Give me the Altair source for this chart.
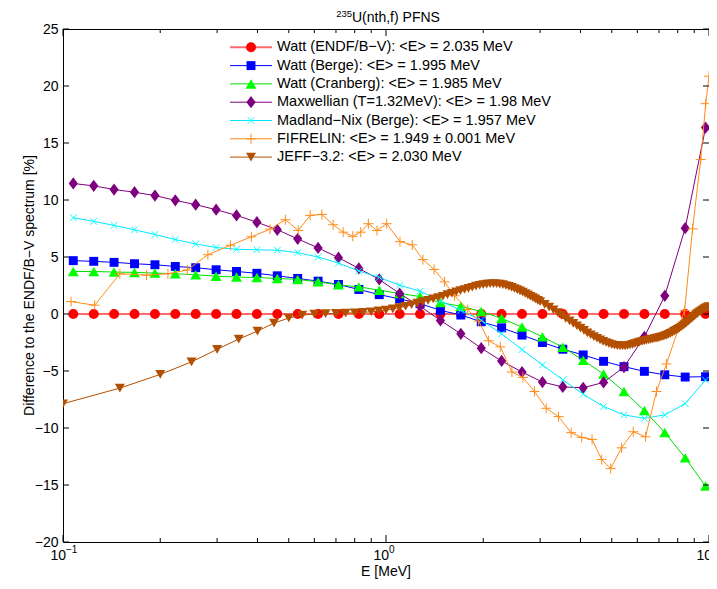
import altair as alt
import pandas as pd

# ---------------- data ----------------
E_grid = [0.1076, 0.1245, 0.1439, 0.1665, 0.1926, 0.2227, 0.2575, 0.2979, 0.3445, 0.3984,
          0.4607, 0.5328, 0.6162, 0.7126, 0.8241, 0.953, 1.102, 1.275, 1.474, 1.705,
          1.972, 2.280, 2.637, 3.050, 3.527, 4.078, 4.717, 5.455, 6.309, 7.296, 8.438, 9.757]

watt_endf = [0, 0, 0, 0, 0, 0, 0, 0, 0, 0, 0, 0, 0, 0, 0, 0,
             0, 0, 0, 0, 0, 0, 0, 0, 0, 0, 0, 0, 0, 0, 0, 0]
watt_berge = [4.68, 4.62, 4.53, 4.41, 4.32, 4.17, 4.06, 3.88, 3.73, 3.57, 3.35, 3.12, 2.88, 2.59, 2.15, 1.70,
              1.32, 0.91, 0.32, -0.09, -0.68, -1.21, -1.85, -2.5, -3.09, -3.59, -4.15, -4.62, -5.03, -5.33, -5.53, -5.5]
watt_cranberg = [3.73, 3.73, 3.68, 3.65, 3.59, 3.53, 3.44, 3.32, 3.24, 3.2, 3.12, 3.03, 2.82, 2.56, 2.38, 2.09,
                 1.8, 1.53, 1.0, 0.68, 0.22, -0.38, -1.15, -2.0, -2.91, -4.06, -5.27, -6.8, -8.47, -10.39, -12.62, -15.09]
maxwellian = [11.45, 11.24, 10.92, 10.68, 10.39, 9.97, 9.59, 9.15, 8.65, 8.05, 7.39, 6.59, 5.80, 4.94, 4.0, 3.03,
              1.79, 0.68, -0.56, -1.74, -3.0, -4.12, -5.09, -5.97, -6.4, -6.47, -6.0, -4.65, -2.0, 1.59, 7.53, 16.35]
madland_nix = [8.45, 8.12, 7.77, 7.39, 6.97, 6.53, 6.15, 5.83, 5.68, 5.63, 5.59, 5.38, 5.0, 4.47, 3.77, 3.21,
               2.53, 2.0, 1.15, 0.32, -0.55, -1.74, -3.12, -4.47, -5.77, -7.03, -8.12, -8.85, -9.15, -8.85, -7.86, -5.8]

E_fifrelin = [0.1059, 0.1253, 0.150, 0.1813, 0.2113, 0.2426, 0.2809, 0.330, 0.383, 0.4375,
              0.488, 0.535, 0.5825, 0.633, 0.686, 0.737, 0.789, 0.835, 0.882, 0.938,
              1.005, 1.105, 1.206, 1.301, 1.409, 1.518, 1.63, 1.79, 1.936, 2.079,
              2.259, 2.454, 2.654, 2.884, 3.133, 3.420, 3.743, 4.036, 4.345, 4.652,
              4.961, 5.362, 5.828, 6.360, 6.877, 7.384, 8.403, 8.895, 9.428, 9.768, 10.0]
fifrelin = [1.09, 0.77, 3.53, 3.41, 3.53, 3.86, 5.2, 6.03, 6.77, 7.44,
            8.27, 7.33, 8.65, 8.74, 7.83, 7.18, 6.82, 7.18, 7.92, 7.33,
            7.92, 6.35, 6.06, 4.77, 3.91, 2.82, 1.6, 0.4, -0.62, -2.35,
            -2.88, -5.09, -5.56, -6.8, -8.27, -9.0, -10.41, -10.83, -11.0, -12.77,
            -13.56, -11.74, -10.33, -10.77, -6.8, -4.38, 0.3, 7.47, 13.56, 18.45, 20.86]

E_jeff = [0.1, 0.15, 0.2, 0.25, 0.3, 0.35, 0.4, 0.45, 0.5, 0.55, 0.6, 0.65, 0.7, 0.75, 0.8, 0.85, 0.9, 0.95,
          1.0, 1.05, 1.1, 1.15, 1.2, 1.25, 1.3, 1.35, 1.4, 1.45, 1.5, 1.55, 1.6, 1.65, 1.7, 1.75, 1.8, 1.85,
          1.9, 1.95, 2.0, 2.05, 2.1, 2.15, 2.2, 2.25, 2.3, 2.35, 2.4, 2.45, 2.5, 2.55, 2.6, 2.65, 2.7, 2.75,
          2.8, 2.85, 2.9, 2.95, 3.0,
          3.1, 3.2, 3.3, 3.4, 3.5, 3.6, 3.7, 3.8, 3.9,
          4.0, 4.1, 4.2, 4.3, 4.4, 4.5, 4.6, 4.7, 4.8, 4.9,
          5.0, 5.1, 5.2, 5.3, 5.4, 5.5, 5.6, 5.7, 5.8, 5.9,
          6.0, 6.1, 6.2, 6.3, 6.4, 6.5, 6.6, 6.7, 6.8, 6.9,
          7.0, 7.1, 7.2, 7.3, 7.4, 7.5, 7.6, 7.7, 7.8, 7.9,
          8.0, 8.1, 8.2, 8.3, 8.4, 8.5, 8.6, 8.7, 8.8, 8.9,
          9.0, 9.1, 9.2, 9.3, 9.4, 9.5, 9.6, 9.7, 9.8, 9.9, 10.0]
jeff = [-7.87, -6.5, -5.3, -4.2, -3.1, -2.2, -1.5, -0.8, -0.35, -0.1, 0.0, 0.03, 0.05, 0.08, 0.11, 0.15, 0.2, 0.27,
        0.35, 0.45, 0.56, 0.68, 0.81, 0.95, 1.08, 1.2, 1.32, 1.44, 1.56, 1.7, 1.82, 1.94, 2.05, 2.15, 2.25, 2.35,
        2.45, 2.52, 2.58, 2.62, 2.65, 2.66, 2.65, 2.62, 2.57, 2.5, 2.42, 2.33, 2.24, 2.14, 2.03, 1.92, 1.8, 1.68,
        1.56, 1.44, 1.32, 1.2, 1.08,
        0.85, 0.6, 0.36, 0.12, -0.12, -0.38, -0.6, -0.82, -1.03,
        -1.24, -1.44, -1.65, -1.82, -1.98, -2.13, -2.27, -2.4, -2.5, -2.6,
        -2.68, -2.74, -2.78, -2.8, -2.8, -2.79, -2.76, -2.72, -2.67, -2.6,
        -2.53, -2.47, -2.41, -2.36, -2.31, -2.27, -2.23, -2.19, -2.15, -2.11,
        -2.07, -2.02, -1.97, -1.91, -1.85, -1.78, -1.7, -1.62, -1.53, -1.44,
        -1.35, -1.25, -1.14, -1.03, -0.92, -0.8, -0.68, -0.56, -0.44, -0.32,
        -0.2, -0.08, 0.03, 0.13, 0.22, 0.31, 0.39, 0.47, 0.54, 0.6, 0.66]

labels = [
    "Watt (ENDF/B\u2212V): <E> = 2.035 MeV",
    "Watt (Berge): <E> = 1.995 MeV",
    "Watt (Cranberg): <E> = 1.985 MeV",
    "Maxwellian (T=1.32MeV): <E> = 1.98 MeV",
    "Madland\u2212Nix (Berge): <E> = 1.957 MeV",
    "FIFRELIN: <E> = 1.949 \u00b1 0.001 MeV",
    "JEFF\u22123.2: <E> = 2.030 MeV",
]

y_ticks = [-20, -15, -10, -5, 0, 5, 10, 15, 20, 25]
x_major = [0.1, 1, 10]
x_exp = ["\u22121", "0", "1"]
x_minor = [0.2, 0.3, 0.4, 0.5, 0.6, 0.7, 0.8, 0.9, 2, 3, 4, 5, 6, 7, 8, 9]

# ---------------- styling ----------------
W, H = 646, 513
FONT = "Liberation Sans"

X = alt.X("E:Q", scale=alt.Scale(type="log", domain=[0.1, 10], nice=False), axis=None)
Y = alt.Y("v:Q", scale=alt.Scale(domain=[-20, 25], nice=False, zero=False),
          axis=alt.Axis(values=y_ticks, ticks=False, domain=False, grid=False, labelFont=FONT,
                        labelFontSize=14, labelColor="black", labelPadding=5, title=None))

CROSS = "M-1,-1L1,1M-1,1L1,-1"
PLUS = "M-1,0L1,0M0,-1L0,1"
DIAMOND = "M0,-1L0.75,0L0,1L-0.75,0Z"

styles = [
    # color, line color, line width, shape, size, filled
    ("#ff0000", "#ff6a6a", 2.0, "circle", 100, True),
    ("#0000ff", "#0000ff", 1.0, "square", 80, True),
    ("#00ff00", "#00e000", 1.0, "triangle-up", 120, True),
    ("#7f007f", "#7f007f", 1.0, DIAMOND, 150, True),
    ("#00ffff", "#00e8ff", 1.0, CROSS, 45, False),
    ("#ff8c1a", "#ff8c1a", 1.0, PLUS, 100, False),
    ("#b34f00", "#b34f00", 1.0, "triangle-down", 100, True),
]

series = [
    (E_grid, watt_endf),
    (E_grid, watt_berge),
    (E_grid, watt_cranberg),
    (E_grid, maxwellian),
    (E_grid, madland_nix),
    (E_fifrelin, fifrelin),
    (E_jeff, jeff),
]

layers = []

for (E, V), (col, lcol, lw, shape, size, filled) in zip(series, styles):
    df = pd.DataFrame({"E": E, "v": V})
    base = alt.Chart(df).encode(x=X, y=Y)
    layers.append(base.mark_line(color=lcol, strokeWidth=lw, clip=True))
    if filled:
        layers.append(base.mark_point(shape=shape, size=size, filled=True, color=col,
                                      opacity=1, clip=True))
    else:
        layers.append(base.mark_point(shape=shape, size=size, filled=False, color=col,
                                      strokeWidth=1, opacity=1, clip=True))

# ---------------- inward ticks ----------------
df_ymaj = pd.DataFrame({"v": y_ticks})
layers.append(alt.Chart(df_ymaj).mark_rule(color="black", strokeWidth=1).encode(
    y=Y, x=alt.value(0), x2=alt.value(6)))
layers.append(alt.Chart(df_ymaj).mark_rule(color="black", strokeWidth=1).encode(
    y=Y, x=alt.value(W - 6), x2=alt.value(W)))

df_xmaj = pd.DataFrame({"E": x_major, "base": ["10", "10", "10"], "exp": x_exp})
df_xmin = pd.DataFrame({"E": x_minor})
for dfx, ln in ((df_xmaj, 7), (df_xmin, 4)):
    layers.append(alt.Chart(dfx).mark_rule(color="black", strokeWidth=1).encode(
        x=X, y=alt.value(H), y2=alt.value(H - ln)))
    layers.append(alt.Chart(dfx).mark_rule(color="black", strokeWidth=1).encode(
        x=X, y=alt.value(0), y2=alt.value(ln)))

# x tick labels as 10 with superscript exponent
layers.append(alt.Chart(df_xmaj).mark_text(align="right", baseline="alphabetic", dx=3,
                                           font=FONT, fontSize=14, color="black").encode(
    x=X, y=alt.value(H + 18), text="base:N"))
layers.append(alt.Chart(df_xmaj).mark_text(align="left", baseline="alphabetic", dx=3,
                                           font=FONT, fontSize=10, color="black").encode(
    x=X, y=alt.value(H + 11), text="exp:N"))

# ---------------- titles ----------------
def text_layer(txt, x, y, size, align="center", baseline="middle", angle=0):
    kw = dict(align=align, baseline=baseline, font=FONT, fontSize=size, color="black")
    if angle:
        kw["angle"] = angle
    return alt.Chart(pd.DataFrame({"t": [txt]})).mark_text(**kw).encode(
        x=alt.value(x), y=alt.value(y), text="t:N")

layers.append(text_layer("E [MeV]", W / 2, H + 30, 14))
layers.append(text_layer("Difference to the ENDF/B\u2212V spectrum [%]", -33.5, H / 2, 14, angle=270))
layers.append(text_layer("U(nth,f) PFNS", 289, -7, 14, align="left", baseline="alphabetic"))
layers.append(text_layer("235", 289, -12, 9.5, align="right", baseline="alphabetic"))

# ---------------- legend ----------------
leg_y0, leg_dy = 18.3, 18.3
for i, ((col, lcol, lw, shape, size, filled), lab) in enumerate(zip(styles, labels)):
    yy = leg_y0 + i * leg_dy
    d1 = pd.DataFrame({"t": [lab]})
    layers.append(alt.Chart(d1).mark_rule(color=lcol, strokeWidth=lw).encode(
        x=alt.value(167), x2=alt.value(209), y=alt.value(yy)))
    if filled:
        pm = alt.Chart(d1).mark_point(shape=shape, size=size, filled=True, color=col, opacity=1)
    else:
        pm = alt.Chart(d1).mark_point(shape=shape, size=size, filled=False, color=col,
                                      strokeWidth=1, opacity=1)
    layers.append(pm.encode(x=alt.value(188), y=alt.value(yy)))
    layers.append(alt.Chart(d1).mark_text(align="left", baseline="middle", font=FONT,
                                          fontSize=14.5, color="black").encode(
        x=alt.value(214), y=alt.value(yy), text="t:N"))

chart = alt.layer(*layers).properties(
    width=W, height=H,
    autosize=alt.AutoSizeParams(type="none"),
    padding={"left": 55, "top": 21, "right": 0, "bottom": 39},
    background="white",
).configure_view(stroke="black", strokeWidth=1)

chart.save("out.html", embed_options={"renderer": "svg", "actions": False})
